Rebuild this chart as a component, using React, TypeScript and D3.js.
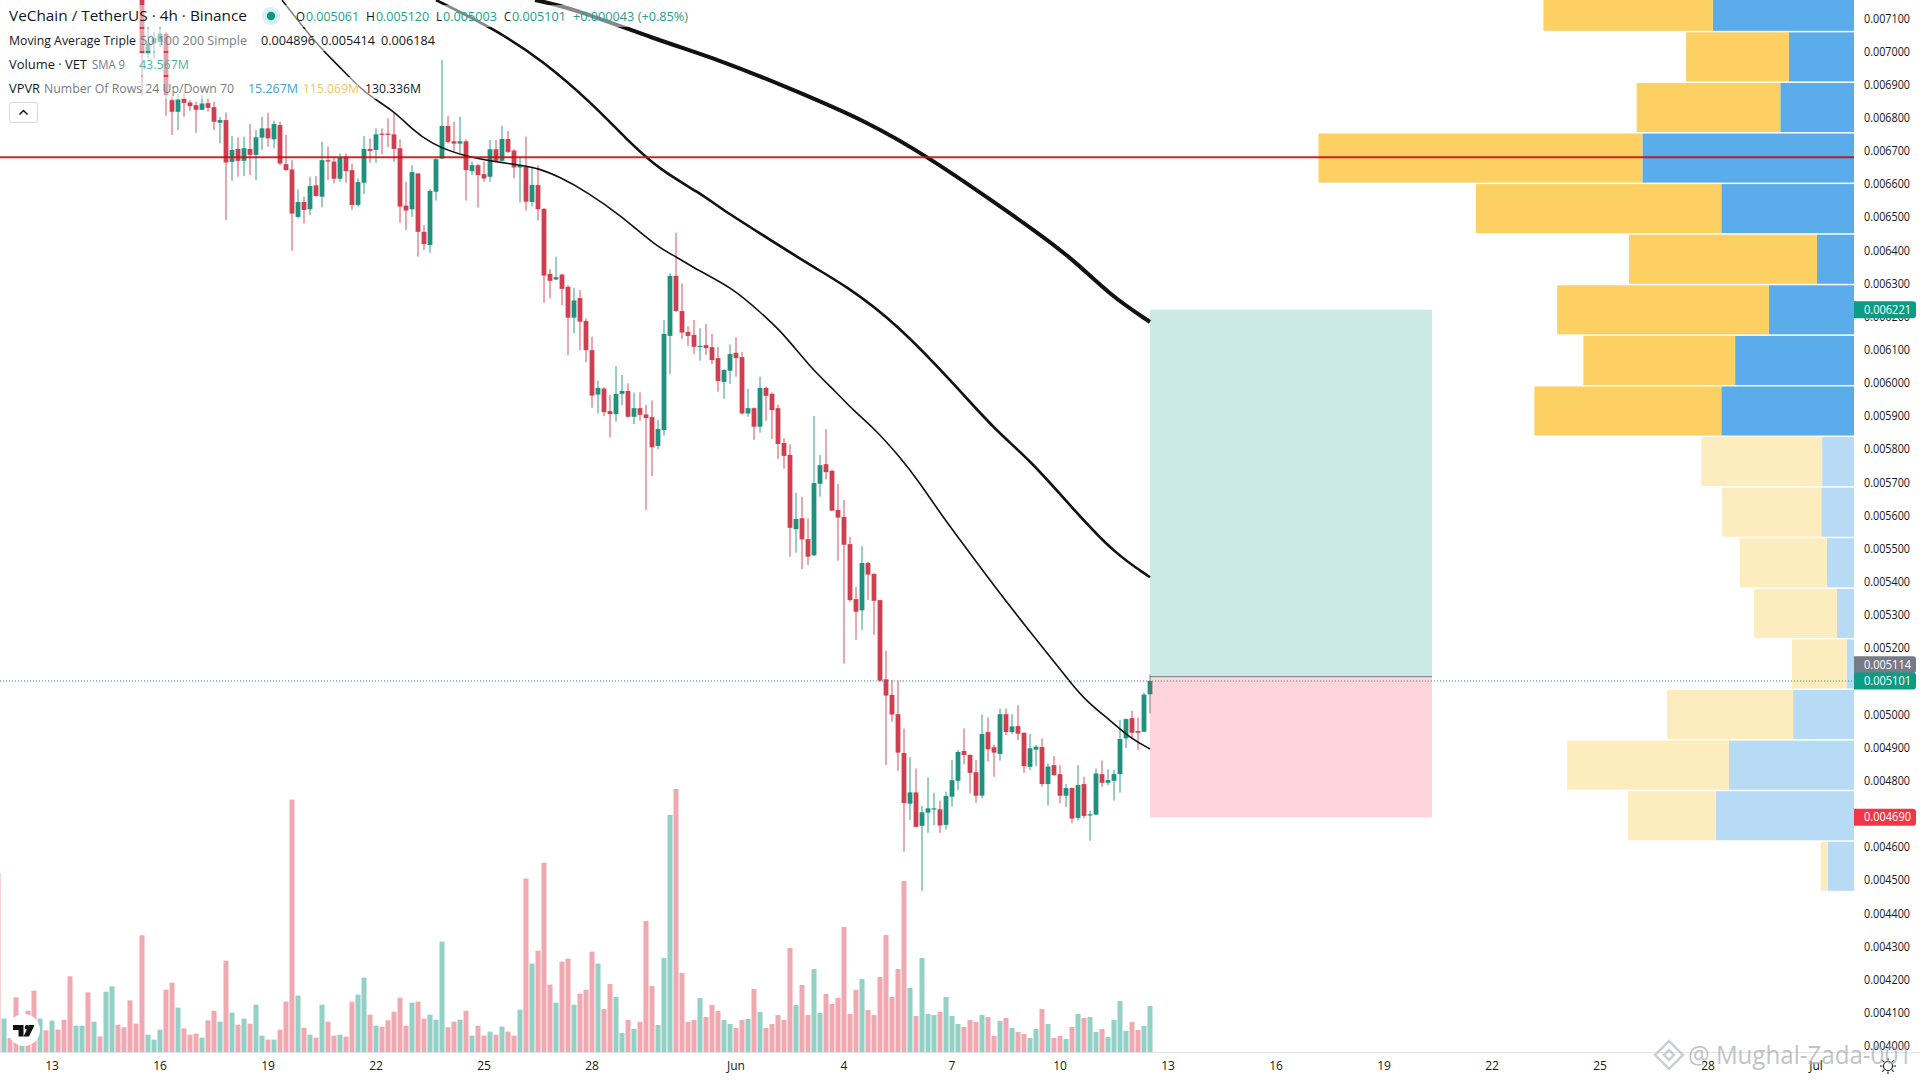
import React from "react";
import * as d3 from "d3";

// All prices are in millionths of USDT (6221 = 0.006221). Candles start at bar 24.
const firstCandleBar = 24;
const opens = [
  7250,6994,7024,7029,7054,6853,6818,6858,6846,6838,6824,6844,6832,6785,6793,6667,6706,6670,6706,6688,6740,6768,6735,6778,6660,6644,6501,6546,6524,6596,6562,6672,6668,6616,6682,6642,6537,6604,6706,6703,6752,6752,6750,6708,6535,6524,6632,6456,
  6416,6577,6677,6775,6729,6722,6729,6639,6657,6630,6622,6705,6670,6736,6701,6650,6652,6546,6597,6525,6329,6312,6327,6290,6197,6256,6187,
  6099,5965,5983,5915,5906,5967,5976,5898,5924,5905,5897,5810,5858,6142,6323,6217,6154,6145,6109,6114,6108,6075,6003,6037,6091,6078,5908,5924,5868,5985,5967,5924,5819,
  5783,5559,5592,5529,5480,5696,5755,5735,5617,5596,5514,5348,5314,5457,5424,5345,5106,5059,5001,4884,4731,4765,4664,4704,4715,4714,
  4667,4752,4800,4890,4878,4826,4755,4947,4901,4881,5001,4947,4965,4945,4842,4894,4902,4790,4847,4820,4755,4778,4688,4790,4696,4698,4820,4794,4800,4820,4928,4989,4950,4948,5061,
];
const highs = [
  7280,7075,7059,7075,7059,6868,6871,6873,6853,6848,6868,6858,6848,6803,6816,6745,6741,6743,6781,6763,6803,6815,6791,6788,6748,6672,6584,6562,6622,6624,6728,6713,6682,6692,6692,6662,6617,6745,6738,6768,6768,6798,6816,6735,6607,6657,6632,6476,
  6585,6678,6974,6805,6787,6803,6735,6668,6660,6668,6733,6733,6776,6760,6705,6678,6743,6652,6657,6528,6343,6381,6329,6295,6286,6280,6195,
  6140,6007,5987,5964,6051,6024,5999,5971,5972,5934,5947,5888,6190,6331,6453,6300,6172,6190,6165,6178,6148,6109,6041,6116,6138,6094,5982,5926,6019,5989,5971,5934,5833,
  5815,5669,5657,5592,5900,5783,5861,5739,5695,5647,5536,5385,5508,5461,5426,5345,5192,5104,5102,4958,4871,4837,4724,4810,4764,4740,
  4767,4863,4893,4958,4880,4863,5000,4991,4908,5018,5018,5001,5028,4945,4941,4908,4928,4852,4875,4847,4790,4780,4847,4812,4710,4837,4861,4835,4832,4983,4988,5011,4991,5066,5120,
];
const lows = [
  6868,6979,6979,7014,6806,6748,6763,6803,6821,6755,6823,6818,6763,6723,6491,6610,6622,6624,6627,6612,6703,6713,6708,6657,6640,6399,6496,6481,6506,6562,6530,6612,6602,6607,6604,6522,6532,6570,6664,6664,6690,6711,6667,6483,6461,6501,6381,6401,
  6393,6550,6675,6723,6698,6693,6550,6627,6529,6607,6607,6668,6668,6693,6617,6544,6520,6532,6490,6242,6255,6311,6235,6084,6150,6099,6062,
  5925,5908,5900,5836,5883,5933,5896,5876,5886,5617,5719,5800,5841,6027,6215,6133,6112,6087,6067,6084,6057,5974,5952,5997,6019,5905,5898,5828,5850,5886,5831,5771,5741,
  5476,5488,5438,5451,5478,5657,5709,5614,5464,5154,5340,5225,5255,5345,5240,5099,4848,4978,4830,4586,4682,4660,4468,4643,4666,4643,
  4653,4722,4772,4850,4762,4734,4747,4858,4812,4861,4938,4941,4923,4824,4832,4844,4782,4725,4815,4732,4721,4672,4680,4687,4619,4697,4782,4787,4740,4764,4899,4928,4893,4948,5003,
];
const closes = [
  6994,7024,7040,7054,6868,6818,6855,6845,6835,6824,6843,6830,6788,6793,6665,6703,6670,6708,6688,6741,6768,6738,6781,6662,6642,6511,6546,6522,6594,6564,6672,6668,6616,6680,6639,6537,6606,6706,6700,6750,6749,6749,6706,6532,6520,6636,6456,6419,
  6579,6675,6775,6727,6722,6729,6642,6657,6627,6617,6705,6670,6736,6697,6650,6657,6547,6597,6524,6324,6308,6319,6284,6197,6249,6185,6099,
  5962,5985,5912,5906,5967,5976,5898,5924,5904,5894,5806,5861,6148,6323,6217,6152,6142,6109,6112,6105,6069,6006,6039,6087,6075,5908,5924,5868,5985,5961,5918,5816,5780,
  5563,5590,5528,5476,5698,5752,5731,5615,5594,5512,5345,5310,5457,5422,5343,5102,5057,5000,4885,4733,4765,4661,4705,4717,4717,4665,
  4754,4802,4887,4878,4824,4755,4941,4895,4885,5001,4947,4964,4942,4844,4898,4903,4790,4843,4817,4755,4778,4686,4787,4694,4699,4822,4794,4802,4820,4926,4986,4945,4945,5060,5101,
];

// Volume per bar in millions of VET, bar 0 upwards.
const volumes = [
  169.5,31.6,13.3,51.8,8.5,39.1,58.1,31.6,20.5,29.7,21.2,30.6,71.7,24.9,24.9,56.5,28.7,14.8,57.1,62.2,25.9,23.4,48.9,26.8,
  110.5,16.4,11.7,21.2,59,65.7,42,22.4,16.4,17.4,13.6,30,39.1,28.7,86.5,37.3,25.9,31.6,26.8,44.8,15.5,11.7,11.7,21.2,47.7,239,53.4,23,16.4,13.6,
  44.8,28.7,15.5,16.4,14.5,47.7,54.3,70.4,35.4,24.9,24,30,38.2,51.5,24.9,46.7,47.7,31.6,35.4,30.6,104.5,23.4,28.7,30.6,39.1,15.5,24.9,15.5,19.3,16.4,24,19.3,15.5,40.1,164.2,83.7,96,179.3,63.8,46.7,85.6,88.4,44.8,55.2,59,95,83.7,
  40.7,64.4,52.1,18,30.3,21.8,28.4,124.1,62.5,25.6,89,224.5,249.1,74.8,28.4,30.3,51.1,33.1,44.5,38.8,30.3,26.5,22.7,30.3,31.3,59.7,37.9,22.7,26.5,35,30.3,98.5,44.5,63.5,35,78.6,36.9,54.9,45.5,51.1,118.4,36,58.7,69.1,39.8,35,71,110.8,52.1,78.6,162,60.6,34.1,89,36,35,37.9,
  52.1,34.1,26.5,23.7,30.3,28.4,35,33.1,15.2,29.4,32.2,22.7,18.9,17,13.3,21.8,40.7,26.5,13.3,15.2,12.3,23.7,36,32.2,33.1,18.9,21.8,14.2,30.3,48.3,19.9,28.4,20.8,24.6,43.567,
];
// Direction of the volume bars that come before the first visible candle.
const earlyVolumeUp = [false,true,false,false,true,false,false,true,false,true,false,false,false,true,true,false,true,false,true,true,false,false,false,false];

const ma50Bars = [47.33,53.17,57.5,60.83,65.83,69.17,72,77.5,87,90,93.67,98.17,103.67,109.83,113.17,116.5,122.5,127,130.83,135.33,139.83,142.5,145.83,150.33,153.67,157,159.5,166.17,172.67,175.83,178.67,181.5,185.33,188.67,192];
const ma50Values = [7155,7019,6944,6878,6823,6763,6724,6682,6657,6648,6621,6576,6507,6410,6380,6341,6286,6214,6151,6048,5970,5918,5867,5777,5698,5608,5547,5384,5234,5164,5098,5038,4983,4929,4896];
const ma100Bars = [73,83,90.67,99,104.83,110.33,117,120.33,126.67,135.83,141.17,149.67,159.5,166.17,172,179.33,186,192];
const ma100Values = [7155,7065,6974,6844,6733,6642,6573,6528,6455,6350,6295,6181,5994,5858,5768,5617,5487,5414];
const ma200Bars = [89.5,95.17,109.83,120.33,131,145.17,155.5,165.5,172.67,179.33,185.33,192];
const ma200Values = [7155,7134,7035,6974,6896,6787,6676,6552,6461,6371,6265,6184];

// Visible range volume profile, bottom row first, in millions.
const vpLow = 4468;
const vpRowStep = 152.6;
const vpUp = [55,290,263,128,15.267,36,57,69,67,279,250,179,78,279,445,155,137,297];
const vpDown = [15,185,340,265,115.069,174,183,208,254,393,319,445,395,516,681,302,216,356];
const vpDimBelowRow = 9; // rows below this one are outside the highlighted value area

const priceTicks = d3.range(7100, 3999, -100);
const dateLabels = ["13","16","19","22","25","28","Jun","4","7","10","13","16","19","22","25","28","Jul"];
const dateBars = [9,27,45,63,81,99,123,141,159,177,195,213,231,249,267,285,303];

const horizontalLevel = 6681;
const lastClose = 5101;
const targetPrice = 6221;
const entryPrice = 5114;
const stopPrice = 4690;
const positionStartBar = 192;
const positionEndBar = 239;

const FONT = "'Open Sans', 'Noto Sans', sans-serif";
const INK = "#131722";
const MUTED = "#787b86";
const UP = "#1f917e";
const DOWN = "#cf3f50";
const AXIS_X = 1854;

const x = d3.scaleLinear().domain([0, 320]).range([-2, 1918]);
const y = d3.scaleLinear().domain([7100, 4000]).range([18.3, 1046]);
const volY = d3.scaleLinear().domain([0, 250]).range([1052, 788]);
const vpX = d3.scaleLinear().domain([0, 1127]).range([0, 536]);

const maPath = (bars: number[], values: number[]) =>
  d3.line<number>()
    .x((_, i) => x(bars[i]))
    .y((v) => y(v))
    .curve(d3.curveBasis)(values) as string;

const fmt = (v: number) => (v / 1e6).toFixed(6);

function Label({ value, color, shift = 0 }: { value: number; color: string; shift?: number }) {
  const cy = y(value) + shift;
  return (
    <g>
      <path d={`M${AXIS_X} ${cy - 8.5}H1913a3 3 0 0 1 3 3V${cy + 5.5}a3 3 0 0 1 -3 3H${AXIS_X}Z`} fill={color} />
      <text x={1864} y={cy + 4.2} fontSize={12} fill="#fff" textLength={47} lengthAdjust="spacingAndGlyphs">{fmt(value)}</text>
    </g>
  );
}

function T(p: { x: number; y: number; w?: number; size?: number; fill?: string; children: React.ReactNode }) {
  return (
    <text x={p.x} y={p.y} fontSize={p.size ?? 12} fill={p.fill ?? INK}
      textLength={p.w} lengthAdjust={p.w ? "spacingAndGlyphs" : undefined}>
      {p.children}
    </text>
  );
}

export default function App() {
  return (
    <svg width={1920} height={1080} viewBox="0 0 1920 1080"
      style={{ position: "fixed", left: 0, top: 0, background: "#fff" }} fontFamily={FONT}>
      <defs>
        <clipPath id="pane"><rect x={0} y={0} width={AXIS_X} height={1052} /></clipPath>
      </defs>

      <g clipPath="url(#pane)">
        {/* volume profile */}
        {vpUp.map((u, i) => {
          const d = vpDown[i];
          const bottom = y(vpLow + vpRowStep * i);
          const top = y(vpLow + vpRowStep * (i + 1));
          const dim = i < vpDimBelowRow;
          const uw = vpX(u);
          const dw = vpX(d);
          return (
            <g key={i}>
              <rect x={AXIS_X - uw} y={top + 1.5} width={uw} height={bottom - top - 1.5} fill={dim ? "#b8dbf5" : "#5aadea"} />
              <rect x={AXIS_X - uw - dw} y={top + 1.5} width={dw} height={bottom - top - 1.5} fill={dim ? "#fdecbe" : "#fcd062"} />
            </g>
          );
        })}

        {/* volume */}
        {volumes.map((v, i) => {
          const c = i - firstCandleBar;
          const up = c < 0 ? earlyVolumeUp[i] : closes[c] >= opens[c];
          return (
            <rect key={i} x={x(i) - 2.5} y={volY(v)} width={5} height={volY(0) - volY(v)}
              fill={up ? "#93d0c5" : "#f0a9b0"} />
          );
        })}

        {/* candles */}
        {opens.map((o, c) => {
          const i = c + firstCandleBar;
          const cl = closes[c];
          const color = cl >= o ? UP : DOWN;
          const top = y(Math.max(o, cl));
          const bot = y(Math.min(o, cl));
          return (
            <g key={i}>
              <line x1={x(i)} x2={x(i)} y1={y(highs[c])} y2={y(lows[c])} stroke={color} strokeWidth={1} opacity={0.9} />
              <rect x={x(i) - 2.4} y={top} width={4.8} height={Math.max(bot - top, 1.2)} fill={color} />
            </g>
          );
        })}

        {/* moving averages */}
        <path d={maPath(ma50Bars, ma50Values)} fill="none" stroke="#111" strokeWidth={1.6} />
        <path d={maPath(ma100Bars, ma100Values)} fill="none" stroke="#111" strokeWidth={2.6} />
        <path d={maPath(ma200Bars, ma200Values)} fill="none" stroke="#111" strokeWidth={4} />

        {/* position tool */}
        <rect x={x(positionStartBar)} y={y(targetPrice)} width={x(positionEndBar) - x(positionStartBar)}
          height={y(entryPrice) - y(targetPrice)} fill="#00977f" fillOpacity={0.2} />
        <rect x={x(positionStartBar)} y={y(entryPrice)} width={x(positionEndBar) - x(positionStartBar)}
          height={y(stopPrice) - y(entryPrice)} fill="#ff2f45" fillOpacity={0.2} />
        <line x1={x(positionStartBar)} x2={x(positionEndBar)} y1={y(entryPrice)} y2={y(entryPrice)} stroke={MUTED} strokeWidth={1} />

        {/* levels */}
        <line x1={0} x2={AXIS_X} y1={y(horizontalLevel)} y2={y(horizontalLevel)} stroke="#c80f14" strokeOpacity={0.9} strokeWidth={2} />
        <line x1={0} x2={AXIS_X} y1={y(lastClose)} y2={y(lastClose)} stroke="#1f917e" strokeWidth={1} strokeDasharray="1 2" />

        {/* legend backdrop */}
        <rect x={8} y={5} width={682} height={22} fill="#fff" fillOpacity={0.5} />
        <rect x={8} y={29} width={429} height={22} fill="#fff" fillOpacity={0.5} />
        <rect x={8} y={53} width={184} height={22} fill="#fff" fillOpacity={0.5} />
        <rect x={8} y={77} width={415} height={22} fill="#fff" fillOpacity={0.5} />
      </g>

      {/* axes */}
      <line x1={0} x2={1920} y1={1052.5} y2={1052.5} stroke="#e0e3eb" />
      {priceTicks.map((p) => (
        <text key={p} x={1864} y={y(p) + 4.2} fontSize={12} fill={INK} textLength={46} lengthAdjust="spacingAndGlyphs">{fmt(p)}</text>
      ))}
      {dateLabels.map((d, i) => (
        <text key={i} x={x(dateBars[i])} y={1070} fontSize={12} fill={INK} textAnchor="middle">{d}</text>
      ))}

      <Label value={targetPrice} color="#0b9c83" />
      <Label value={entryPrice} color={MUTED} shift={-12} />
      <Label value={lastClose} color="#0b9c83" />
      <Label value={stopPrice} color="#f23645" />

      {/* legend */}
      <T x={9} y={21} size={14.5} w={238}>VeChain / TetherUS · 4h · Binance</T>
      <circle cx={271} cy={16} r={9} fill="#089981" fillOpacity={0.15} />
      <circle cx={271} cy={16} r={4.2} fill="#089981" />
      <T x={296} y={21} w={9}>O</T><T x={306} y={21} w={53} fill="#22a08b">0.005061</T>
      <T x={366} y={21} w={9}>H</T><T x={376} y={21} w={53} fill="#22a08b">0.005120</T>
      <T x={436} y={21} w={6}>L</T><T x={443} y={21} w={54} fill="#22a08b">0.005003</T>
      <T x={504} y={21} w={7}>C</T><T x={512} y={21} w={54} fill="#22a08b">0.005101</T>
      <T x={573} y={21} w={115} fill="#22a08b">+0.000043 (+0.85%)</T>

      <T x={9} y={45} w={127}>Moving Average Triple</T>
      <T x={140} y={45} w={107} fill={MUTED}>50 100 200 Simple</T>
      <T x={261} y={45} w={54}>0.004896</T>
      <T x={321} y={45} w={54}>0.005414</T>
      <T x={381} y={45} w={54}>0.006184</T>

      <T x={9} y={69} w={78}>Volume · VET</T>
      <T x={92} y={69} w={33} fill={MUTED}>SMA 9</T>
      <T x={139} y={69} w={50} fill="#4fb3a2">43.567M</T>

      <T x={9} y={93} w={31}>VPVR</T>
      <T x={44} y={93} w={190} fill={MUTED}>Number Of Rows 24 Up/Down 70</T>
      <T x={248} y={93} w={50} fill="#3f9fd6">15.267M</T>
      <T x={303} y={93} w={56} fill="#f0c75a">115.069M</T>
      <T x={365} y={93} w={56}>130.336M</T>

      <rect x={9.5} y={102.5} width={28} height={20} rx={2} fill="#fff" stroke="#d6d8de" />
      <path d="M19.5 114.5l4-4 4 4" fill="none" stroke={INK} strokeWidth={1.5} />

      {/* TradingView mark */}
      <circle cx={24} cy={1030} r={16} fill="#fff" />
      <path d="M13 1025h10.5v11.5h-5v-6.5H13z" fill="#111" />
      <circle cx={27} cy={1027.2} r={2.2} fill="#111" />
      <path d="M29 1025h5.5l-5.5 11.5h-5.5z" fill="#111" />

      {/* settings */}
      <g fill="none" stroke={INK} strokeWidth={1.1}>
        <circle cx={1888} cy={1066} r={4.5} />
        <path d="M1888 1058v2.5M1888 1071.5v2.5M1880 1066h2.5M1893.5 1066h2.5M1882.3 1060.3l1.8 1.8M1891.9 1069.9l1.8 1.8M1893.7 1060.3l-1.8 1.8M1884.1 1069.9l-1.8 1.8" />
      </g>

      {/* watermark */}
      <g opacity={0.7}>
        <g fill="none" stroke="#b9bcc4" strokeWidth={2.5}>
          <path d="M1669 1041l14 14-14 14-14-14z" />
          <path d="M1669 1050l5 5-5 5-5-5z" />
        </g>
        <text x={1688} y={1064} fontSize={25} fill="#a8abb3" textLength={224} lengthAdjust="spacingAndGlyphs">@ Mughal-Zada-001</text>
      </g>
    </svg>
  );
}
